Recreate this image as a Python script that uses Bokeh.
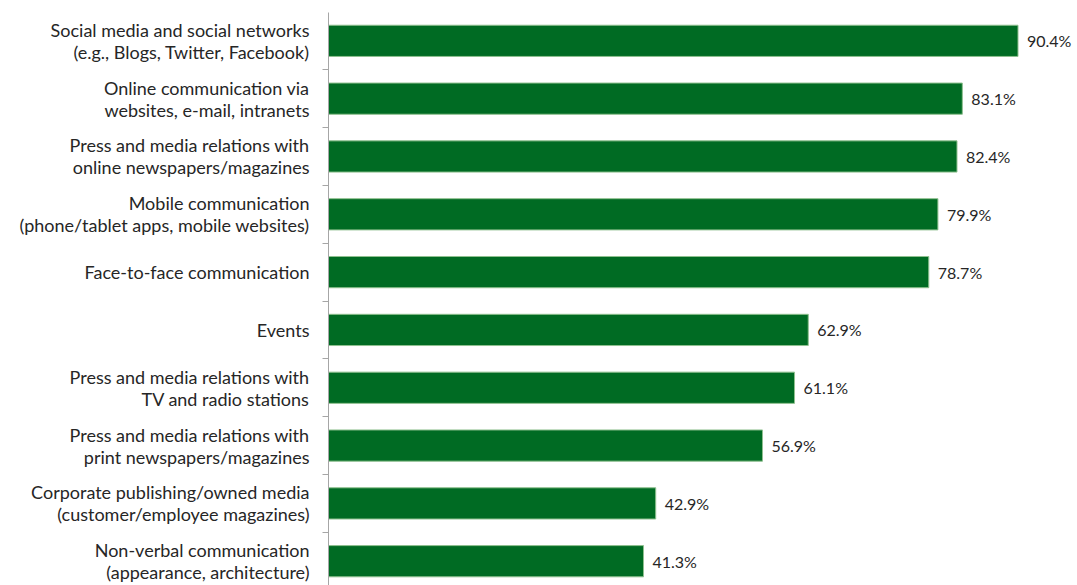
from bokeh.plotting import figure
from bokeh.models import ColumnDataSource, Range1d, LinearAxis, FixedTicker
from bokeh.core.properties import value
from bokeh.embed import file_html
from bokeh.resources import INLINE

categories = [
    "Social media and social networks\n(e.g., Blogs, Twitter, Facebook)",
    "Online communication via\nwebsites, e-mail, intranets",
    "Press and media relations with\nonline newspapers/magazines",
    "Mobile communication\n(phone/tablet apps, mobile websites)",
    "Face-to-face communication",
    "Events",
    "Press and media relations with\nTV and radio stations",
    "Press and media relations with\nprint newspapers/magazines",
    "Corporate publishing/owned media\n(customer/employee magazines)",
    "Non-verbal communication\n(appearance, architecture)",
]
values = [90.4, 83.1, 82.4, 79.9, 78.7, 62.9, 61.1, 56.9, 42.9, 41.3]

pos = list(range(len(categories)))
labels = [f"{v:.1f}%" for v in values]

src = ColumnDataSource(dict(y=pos, v=values, lab=labels))

FONT = "Lato"
TEXT = "#262626"

p = figure(width=1077, height=585, output_backend="svg", toolbar_location=None,
           x_range=Range1d(0, 98.2), y_range=Range1d(start=9.42, end=-0.49),
           x_axis_location=None, min_border_left=328, min_border_top=12,
           min_border_right=0, min_border_bottom=0)
p.outline_line_color = None
p.xgrid.visible = False
p.ygrid.visible = False
p.background_fill_color = "white"
p.border_fill_color = "white"

p.hbar(y="y", right="v", left=0, height=0.54, source=src,
       fill_color="#006B23", line_color="#8fc08f", line_width=1)
p.text(x="v", y="y", text="lab", source=src, x_offset=9,
       text_font=value(FONT), text_font_size="16px", text_color=TEXT,
       text_baseline="middle", text_align="left")

# axis with boundary ticks
ax = p.yaxis[0]
ax.ticker = FixedTicker(ticks=[i - 0.5 for i in range(len(categories))])
ax.major_label_text_font_size = "0px"
ax.major_label_text_color = None
ax.major_tick_out = 6
ax.major_tick_in = 0
ax.minor_tick_line_color = None
ax.axis_line_color = "#a6a6a6"
ax.major_tick_line_color = "#a6a6a6"

# label axis
lab_ax = LinearAxis(ticker=FixedTicker(ticks=pos),
                    major_label_overrides={i: c for i, c in enumerate(categories)})
lab_ax.axis_line_color = None
lab_ax.major_tick_line_color = None
lab_ax.minor_tick_line_color = None
lab_ax.major_label_text_font = FONT
lab_ax.major_label_text_font_size = "18px"
lab_ax.major_label_text_line_height = 1.0
lab_ax.major_label_text_color = TEXT
lab_ax.major_label_standoff = 7
p.add_layout(lab_ax, "left")

open("out.html", "w").write(file_html(p, INLINE))
